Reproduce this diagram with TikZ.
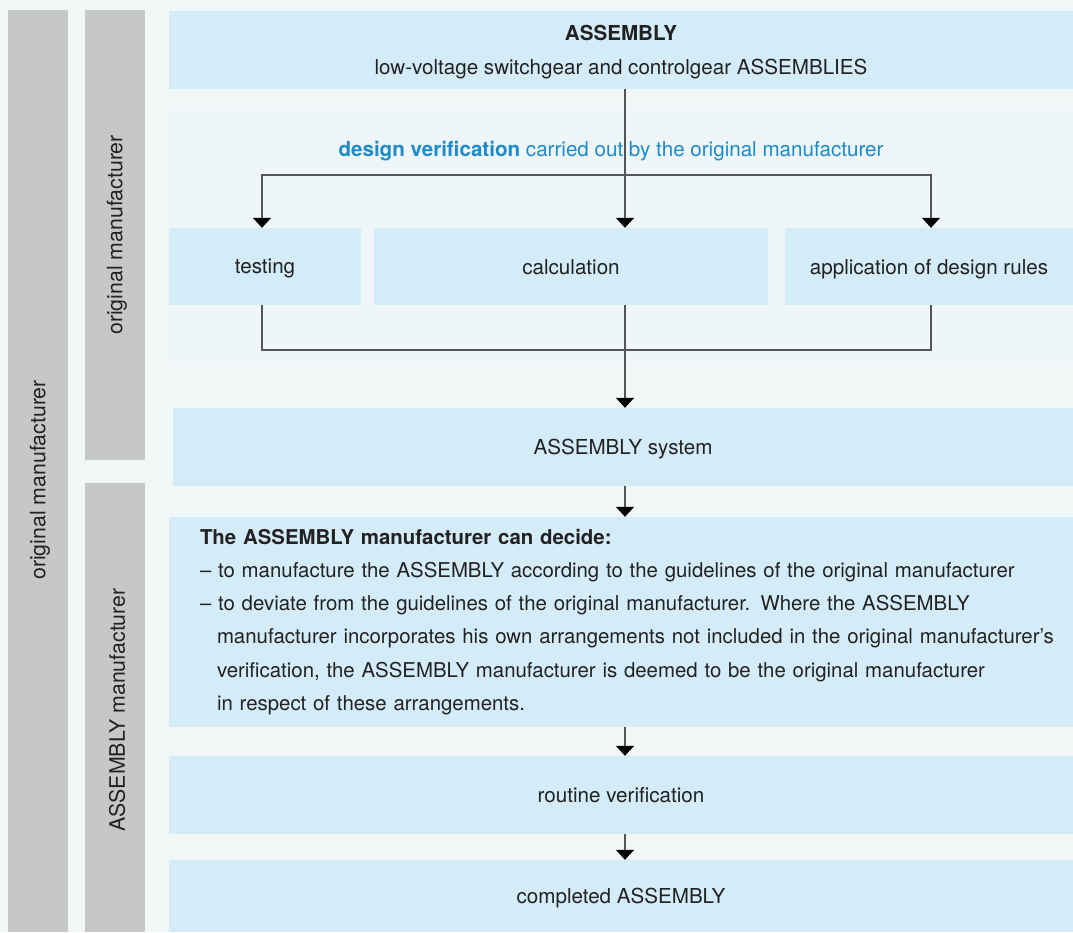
\documentclass[tikz,border=0pt]{standalone}
\usepackage{fontspec}
\setmainfont{TeX Gyre Heros}
\usetikzlibrary{arrows.meta}
\definecolor{bgc}{HTML}{F1F6F7}
\definecolor{panelc}{HTML}{EEF6FA}
\definecolor{boxblue}{HTML}{D4EBF8}
\definecolor{bargrey}{HTML}{C6C7C9}
\definecolor{txt}{HTML}{222222}
\definecolor{linec}{HTML}{555555}
\definecolor{dvblue}{HTML}{1B8BCB}
\begin{document}
\begin{tikzpicture}[x=1pt,y=-1pt]
\tikzstyle{every node}=[font=\fontsize{20.6}{24}\selectfont, text=txt] % common font
\tikzstyle{box} = [rectangle, fill=boxblue, inner sep=0pt, minimum width=904pt, minimum height=78pt] % light blue step box
\tikzstyle{oneline} = [box, text depth=0pt] % step box with one line of text
\tikzstyle{barlabel} = [rotate=90, inner sep=0pt, font=\fontsize{21.3}{24}\selectfont] % text on grey side bar
\tikzstyle{conn} = [draw=linec, line width=1.3pt] % connector line
\tikzstyle{arr} = [conn, -{Triangle[width=18pt,length=10pt,color=black]}] % connector with arrow
\fill[bgc] (0,0) rectangle (1073,932);
\useasboundingbox (0,0) rectangle (1073,932);
\fill[panelc] (168,107) rectangle (1073,365); % design verification area
% side bars
\fill[bargrey] (8,10) rectangle (68,932);
\fill[bargrey] (85,10) rectangle (145,460);
\fill[bargrey] (85,483) rectangle (145,932);
\node[barlabel] (om) at (40,480) {original manufacturer};
\node[barlabel] (omd) at (117,235) {original manufacturer};
\node[barlabel] (am) at (117,710) {ASSEMBLY manufacturer};
% steps
\node[oneline, align=center, font=\fontsize{20.6}{34}\selectfont] (top) at (621,50) {\textbf{ASSEMBLY}\\low-voltage switchgear and controlgear ASSEMBLIES};
\node[text=dvblue, text depth=0pt] (dv) at (611,149) {\textbf{design verification} carried out by the original manufacturer};
\node[oneline, minimum width=192pt, minimum height=77pt] (test) at (265,266.5) {testing};
\node[oneline, minimum width=394pt, minimum height=77pt] (calc) at (571,266.5) {calculation};
\node[oneline, minimum width=288pt, minimum height=77pt] (appl) at (929,266.5) {application of design rules};
\node[oneline, minimum width=900pt] (sys) at (623,447) {ASSEMBLY system};
\node[box, minimum height=210pt, text width=842pt, inner xsep=31pt, align=left, font=\fontsize{20.4}{33.2}\selectfont] (dec) at (621,622) {%
\textbf{The ASSEMBLY manufacturer can decide:}\\
\mbox{– to manufacture the ASSEMBLY according to the guidelines of the original manufacturer}\\
\mbox{– to deviate from the guidelines of the original manufacturer. Where the ASSEMBLY}\\
\mbox{\hspace*{17pt}manufacturer incorporates his own arrangements not included in the original manufacturer’s}\\
\mbox{\hspace*{17pt}verification, the ASSEMBLY manufacturer is deemed to be the original manufacturer}\\
\mbox{\hspace*{17pt}in respect of these arrangements.}};
\node[oneline] (rout) at (621,795) {routine verification};
\node[oneline, minimum height=72pt] (done) at (621,896) {completed ASSEMBLY};
% connectors
\coordinate (split) at (625,175);
\coordinate (join) at (625,350);
\draw[arr] ([xshift=4pt]top.south) -- ([xshift=54pt]calc.north);
\draw[arr] (split) -| ([xshift=-3pt]test.north);
\draw[arr] (split) -| ([xshift=2pt]appl.north);
\draw[conn] ([xshift=-3pt]test.south) |- (join) -| ([xshift=2pt]appl.south);
\draw[arr] ([xshift=54pt]calc.south) -- ([xshift=2pt]sys.north);
\draw[arr] ([xshift=2pt]sys.south) -- ([xshift=4pt]dec.north);
\draw[arr] ([xshift=4pt]dec.south) -- ([xshift=4pt]rout.north);
\draw[arr] ([xshift=4pt]rout.south) -- ([xshift=4pt]done.north);
\end{tikzpicture}
\end{document}
